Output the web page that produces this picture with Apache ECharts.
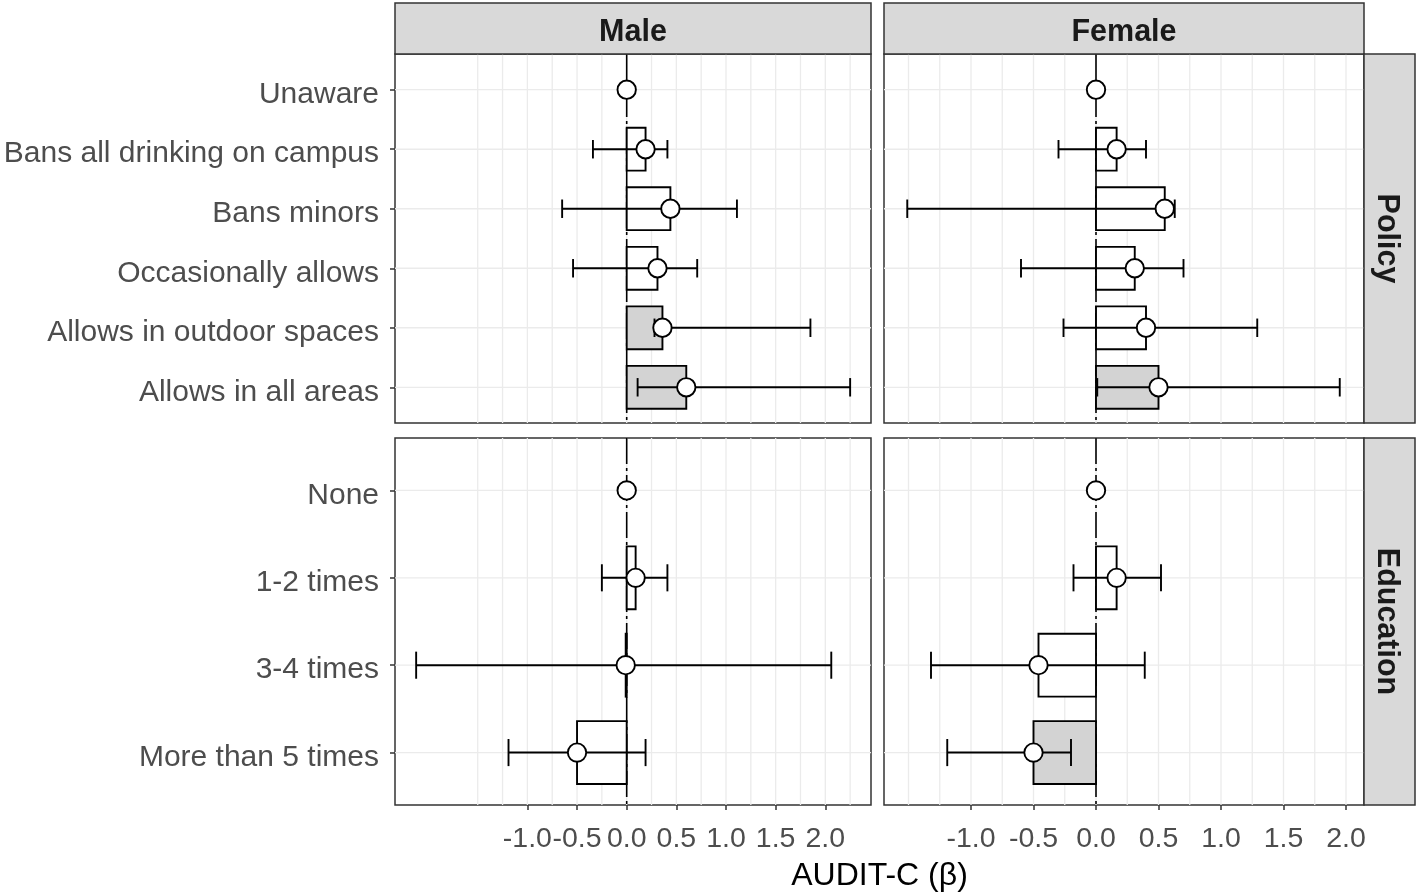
<!DOCTYPE html>
<html>
<head>
<meta charset="utf-8">
<script src="https://cdn.jsdelivr.net/npm/echarts@6/dist/echarts.min.js"></script>
<style>
html,body{margin:0;padding:0;background:#fff;}
#chart{width:1418px;height:895px;}
</style>
</head>
<body>
<div id="chart"></div>
<script>
// ---------- data ----------
const policyCats = ["Unaware", "Bans all drinking on campus", "Bans minors", "Occasionally allows", "Allows in outdoor spaces", "Allows in all areas"];
const eduCats = ["None", "1-2 times", "3-4 times", "More than 5 times"];
const sexes = ["Male", "Female"];
const facets = ["Policy", "Education"];
const xTickValues = [-1.0, -0.5, 0.0, 0.5, 1.0, 1.5, 2.0];
const xGridValues = [-1.5, -1.25, -1.0, -0.75, -0.5, -0.25, 0, 0.25, 0.5, 0.75, 1.0, 1.25, 1.5, 1.75, 2.0, 2.25];
const axisTitle = "AUDIT-C (β)";

const malePolicyEst = [0, 0.19, 0.44, 0.31, 0.36, 0.60];
const malePolicyLo  = [null, -0.34, -0.65, -0.54, 0.28, 0.11];
const malePolicyHi  = [null, 0.41, 1.11, 0.71, 1.85, 2.25];
const malePolicySig = [0, 0, 0, 0, 1, 1];

const femalePolicyEst = [0, 0.165, 0.55, 0.31, 0.40, 0.50];
const femalePolicyLo  = [null, -0.30, -1.51, -0.60, -0.26, 0.01];
const femalePolicyHi  = [null, 0.40, 0.63, 0.70, 1.29, 1.95];
const femalePolicySig = [0, 0, 0, 0, 0, 1];

const maleEduEst = [0, 0.09, -0.01, -0.50];
const maleEduLo  = [null, -0.25, -2.12, -1.19];
const maleEduHi  = [null, 0.41, 2.06, 0.19];
const maleEduSig = [0, 0, 0, 0];

const femaleEduEst = [0, 0.165, -0.46, -0.50];
const femaleEduLo  = [null, -0.18, -1.32, -1.19];
const femaleEduHi  = [null, 0.52, 0.39, -0.20];
const femaleEduSig = [0, 0, 0, 1];

// ---------- layout ----------
const FONT = "'Liberation Sans', Arial, sans-serif";
const colX = [{left: 395, width: 476, min: -2.333, max: 2.460}, {left: 884, width: 480, min: -1.696, max: 2.144}];
const rowY = [{top: 54, height: 369}, {top: 438, height: 367}];
const stripTop = 3, stripRight = 1364, stripW = 51;

const panels = [
  {col: 0, row: 0, cats: policyCats, est: malePolicyEst, lo: malePolicyLo, hi: malePolicyHi, sig: malePolicySig},
  {col: 1, row: 0, cats: policyCats, est: femalePolicyEst, lo: femalePolicyLo, hi: femalePolicyHi, sig: femalePolicySig},
  {col: 0, row: 1, cats: eduCats, est: maleEduEst, lo: maleEduLo, hi: maleEduHi, sig: maleEduSig},
  {col: 1, row: 1, cats: eduCats, est: femaleEduEst, lo: femaleEduLo, hi: femaleEduHi, sig: femaleEduSig}
];

const grids = [], xAxes = [], yAxes = [], series = [];
panels.forEach((p, k) => {
  const c = colX[p.col], r = rowY[p.row];
  const n = p.cats.length;
  grids.push({left: c.left, top: r.top, width: c.width, height: r.height, show: true,
    backgroundColor: '#fff', borderColor: '#333', borderWidth: 1.5, containLabel: false, outerBoundsMode: 'none'});
  const bottom = p.row === 1;
  xAxes.push({type: 'value', gridIndex: k, min: c.min, max: c.max, position: 'bottom',
    axisLine: {show: false, onZero: false}, splitLine: {show: false},
    axisTick: {show: bottom, customValues: xTickValues, length: 5, lineStyle: {color: '#333', width: 1.5}},
    axisLabel: {show: bottom, customValues: xTickValues, margin: 20, color: '#4d4d4d', fontSize: 28.5, fontFamily: FONT,
      formatter: v => v.toFixed(1)}});
  const left = p.col === 0;
  const catIdx = p.cats.map((_, i) => i);
  yAxes.push({type: 'value', gridIndex: k, inverse: true, min: -0.6, max: n - 1 + 0.6, position: 'left',
    axisLine: {show: false, onZero: false}, splitLine: {show: false},
    axisTick: {show: left, customValues: catIdx, length: 5, lineStyle: {color: '#333', width: 1.5}},
    axisLabel: {show: left, customValues: catIdx, margin: 16, color: '#4d4d4d', fontSize: 30, fontFamily: FONT,
      verticalAlign: 'top', lineHeight: 10, formatter: v => p.cats[Math.round(v)]}});

  // grid lines + zero reference line
  const gdata = [];
  xGridValues.forEach(v => gdata.push([v, 0, 0]));
  catIdx.forEach(i => gdata.push([0, i, 1]));
  gdata.push([0, 0, 2]);
  series.push({type: 'custom', xAxisIndex: k, yAxisIndex: k, z: 1, silent: true, clip: true,
    data: gdata,
    renderItem: function (params, api) {
      const cs = params.coordSys;
      const kind = api.value(2);
      if (kind === 0) {
        const x = api.coord([api.value(0), 0])[0];
        return {type: 'line', shape: {x1: x, y1: cs.y, x2: x, y2: cs.y + cs.height}, style: {stroke: '#ebebeb', lineWidth: 1.3}};
      } else if (kind === 1) {
        const y = api.coord([0, api.value(1)])[1];
        return {type: 'line', shape: {x1: cs.x, y1: y, x2: cs.x + cs.width, y2: y}, style: {stroke: '#ebebeb', lineWidth: 1.3}};
      } else {
        const x = api.coord([0, 0])[0];
        return {type: 'line', z2: 5, shape: {x1: x, y1: cs.y, x2: x, y2: cs.y + cs.height},
          style: {stroke: '#000', lineWidth: 1.6, lineDash: [26, 4, 3, 4]}};
      }
    }});

  // bars, error bars, points
  series.push({type: 'custom', xAxisIndex: k, yAxisIndex: k, z: 3, silent: true, clip: true,
    data: p.est.map((v, i) => [v, i]),
    renderItem: function (params, api) {
      const idx = params.dataIndex;
      const e = api.value(0), i = api.value(1);
      const ch = [];
      const bw = 0.36, cw = 0.155;
      if (p.lo[idx] !== null) {
        const a = api.coord([0, i - bw]), b = api.coord([e, i + bw]);
        ch.push({type: 'rect', shape: {x: Math.min(a[0], b[0]), y: Math.min(a[1], b[1]), width: Math.abs(b[0] - a[0]), height: Math.abs(b[1] - a[1])},
          style: {fill: p.sig[idx] ? '#d3d3d3' : '#ffffff', stroke: '#000', lineWidth: 1.9}});
        const l = api.coord([p.lo[idx], i]), h = api.coord([p.hi[idx], i]);
        const ct = api.coord([p.lo[idx], i - cw])[1], cb = api.coord([p.lo[idx], i + cw])[1];
        ch.push({type: 'line', shape: {x1: l[0], y1: l[1], x2: h[0], y2: h[1]}, style: {stroke: '#000', lineWidth: 1.9}});
        ch.push({type: 'line', shape: {x1: l[0], y1: ct, x2: l[0], y2: cb}, style: {stroke: '#000', lineWidth: 1.9}});
        ch.push({type: 'line', shape: {x1: h[0], y1: ct, x2: h[0], y2: cb}, style: {stroke: '#000', lineWidth: 1.9}});
      }
      const pt = api.coord([e, i]);
      ch.push({type: 'circle', shape: {cx: pt[0], cy: pt[1], r: 9.2}, style: {fill: '#fff', stroke: '#000', lineWidth: 1.9}});
      return {type: 'group', children: ch};
    }});
});

// strips and axis title
const graphic = [];
sexes.forEach((s, j) => {
  const c = colX[j];
  graphic.push({type: 'rect', shape: {x: c.left, y: stripTop, width: c.width, height: rowY[0].top - stripTop},
    style: {fill: '#d9d9d9', stroke: '#333', lineWidth: 1.5}, z: 10});
  graphic.push({type: 'text', x: c.left + c.width / 2, y: (stripTop + rowY[0].top) / 2 + 4, z: 11,
    style: {text: s, fill: '#1a1a1a', font: "bold 30.5px " + FONT, align: 'center', verticalAlign: 'middle'}});
});
facets.forEach((f, j) => {
  const r = rowY[j];
  graphic.push({type: 'rect', shape: {x: stripRight, y: r.top, width: stripW, height: r.height},
    style: {fill: '#d9d9d9', stroke: '#333', lineWidth: 1.5}, z: 10});
  graphic.push({type: 'text', x: stripRight + stripW / 2 - 3, y: r.top + r.height / 2, rotation: -Math.PI / 2, z: 11,
    style: {text: f, fill: '#1a1a1a', font: "bold 30.5px " + FONT, align: 'center', verticalAlign: 'middle'}});
});
graphic.push({type: 'text', x: (colX[0].left + colX[1].left + colX[1].width) / 2, y: 876, z: 11,
  style: {text: axisTitle, fill: '#000', font: "32px " + FONT, align: 'center', verticalAlign: 'middle'}});

const chart = echarts.init(document.getElementById('chart'), null, {renderer: 'canvas'});
chart.setOption({
  animation: false,
  backgroundColor: '#fff',
  grid: grids, xAxis: xAxes, yAxis: yAxes, series: series, graphic: graphic
});
</script>
</body>
</html>
